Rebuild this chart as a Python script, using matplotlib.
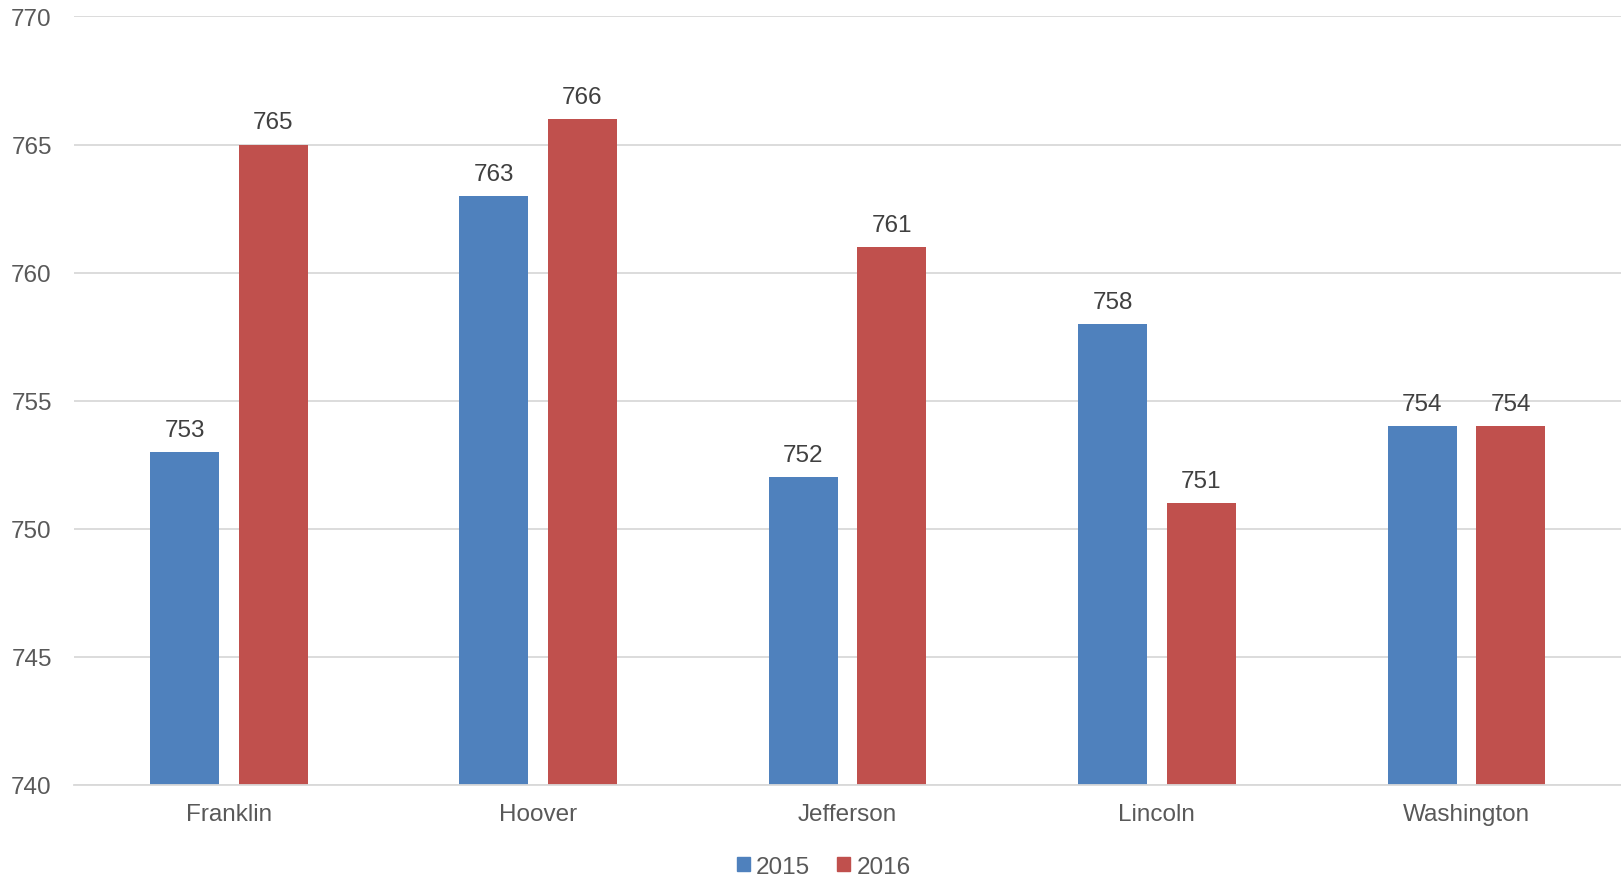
import matplotlib
matplotlib.use("Agg")
import matplotlib.pyplot as plt
import numpy as np
from matplotlib.patches import Patch

schools = ["Franklin", "Hoover", "Jefferson", "Lincoln", "Washington"]
scores_2015 = [753, 763, 752, 758, 754]
scores_2016 = [765, 766, 761, 751, 754]
series_labels = ["2015", "2016"]
y_ticks = [740, 745, 750, 755, 760, 765, 770]

BLUE = "#4F81BD"
RED = "#C0504D"
TEXT = "#595959"
GRID = "#D9D9D9"
FS = 17.5

plt.rcParams["font.family"] = ["Liberation Sans", "DejaVu Sans"]

fig = plt.figure(figsize=(16.21, 8.79), dpi=100)
ax = fig.add_axes([0.0457, 0.1061, 0.9543, 0.874])

x = np.arange(len(schools))
width = 0.223
offset = 0.143

bars_a = ax.bar(x - offset, scores_2015, width, bottom=0, color=BLUE, zorder=3)
bars_b = ax.bar(x + offset, scores_2016, width, bottom=0, color=RED, zorder=3)

for bars, vals in ((bars_a, scores_2015), (bars_b, scores_2016)):
    for b, v in zip(bars, vals):
        ax.annotate(f"{v}", (b.get_x() + b.get_width() / 2, v),
                    xytext=(0, 8), textcoords="offset points",
                    ha="center", va="bottom", fontsize=FS, color="#404040",
                    zorder=4)

ax.set_ylim(740, 770)
ax.set_xlim(-0.5, len(schools) - 0.5)
ax.set_yticks(y_ticks)
ax.set_yticklabels([str(t) for t in y_ticks])
ax.set_xticks(x)
ax.set_xticklabels(schools)

ax.grid(axis="y", color=GRID, linewidth=1.3, zorder=0)
for side in ("top", "right", "left"):
    ax.spines[side].set_visible(False)
ax.spines["bottom"].set_color(GRID)
ax.spines["bottom"].set_linewidth(1.3)
ax.spines["bottom"].set_zorder(5)

ax.tick_params(axis="y", length=0, pad=16, labelsize=FS, labelcolor=TEXT)
ax.tick_params(axis="x", length=0, pad=13, labelsize=FS, labelcolor=TEXT)

handles = [Patch(color=BLUE), Patch(color=RED)]
fig.legend(handles, series_labels, loc="center", bbox_to_anchor=(0.508, 0.013),
           ncol=2, frameon=False, fontsize=FS, labelcolor=TEXT,
           handlelength=0.55, handleheight=0.55, handletextpad=0.25,
           columnspacing=1.1, borderpad=0)

fig.savefig("out.png", dpi=100, facecolor="white")
